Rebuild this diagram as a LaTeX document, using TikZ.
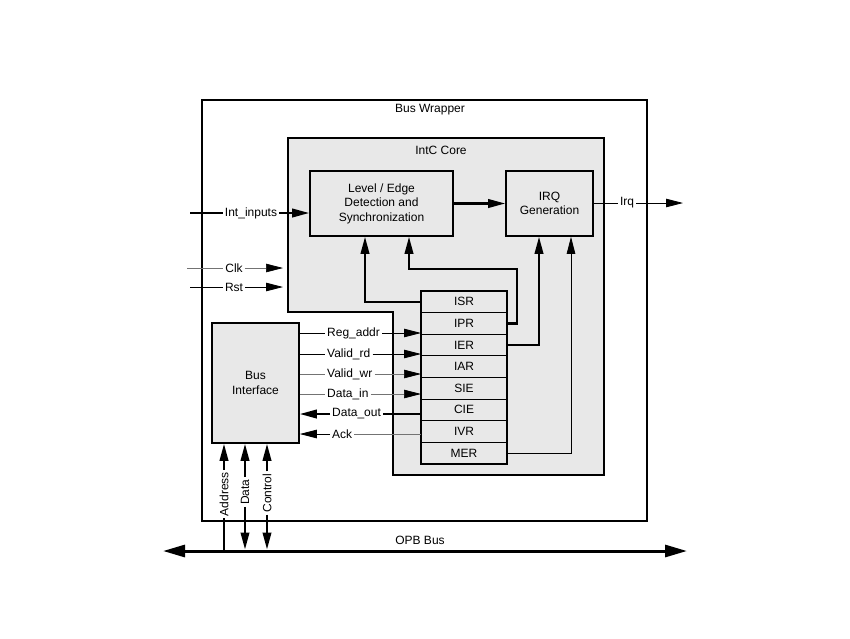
\documentclass[tikz,border=0pt]{standalone}
\usepackage{fontspec}
\setmainfont{Liberation Sans}
\usetikzlibrary{arrows.meta,positioning}
\definecolor{corefill}{gray}{0.91}

\begin{document}
\begin{tikzpicture}[x=1pt,y=-1pt,font=\fontsize{12}{14.5}\selectfont,
 >={Triangle[length=17pt,width=8.5pt,color=black]},
 box/.style={draw,line width=1.6pt,fill=corefill,align=center,inner sep=0pt},
 reg/.style={draw,line width=.8pt,fill=corefill,minimum width=86pt,minimum height=21.6pt,inner sep=0pt,outer sep=0pt},
 lbl/.style={fill=white,inner xsep=2pt,inner ysep=1pt},
 thk/.style={line width=2.2pt},
 thn/.style={line width=.8pt},
 faint/.style={line width=.7pt,draw=black!55},
 bus/.style={line width=3pt,{Triangle[length=22pt,width=12pt]}-{Triangle[length=22pt,width=12pt]}}]
\useasboundingbox (0,0) rectangle (850,638);
% wrapper and core
\node[draw,line width=1.2pt,minimum width=445pt,minimum height=421pt,inner sep=0pt] (wrap) at (424.5,310.5) {};
\node (wraplbl) at (430,110) {Bus Wrapper};
\filldraw[fill=corefill,line width=1.6pt] (288,138) -- (604,138) -- (604,475) -- (393,475) -- (393,312) -- (288,312) -- cycle;
\coordinate (corenw) at (288,138);
\node (corelbl) at (441,150) {IntC Core};
% blocks
\node[box,minimum width=143pt,minimum height=65pt] (level) at (381.5,203.5) {Level / Edge\\Detection and\\Synchronization};
\node[box,minimum width=87pt,minimum height=65pt] (irq) at (549.5,203.5) {IRQ\\Generation};
\node[box,minimum width=87pt,minimum height=120pt] (bi) at (255.5,383) {Bus\\Interface};
% registers
\node[reg] (isr) at (464,301.8) {ISR};
\node[reg,below=0pt of isr] (ipr) {IPR};
\node[reg,below=0pt of ipr] (ier) {IER};
\node[reg,below=0pt of ier] (iar) {IAR};
\node[reg,below=0pt of iar] (sie) {SIE};
\node[reg,below=0pt of sie] (cie) {CIE};
\node[reg,below=0pt of cie] (ivr) {IVR};
\node[reg,below=0pt of ivr] (mer) {MER};
\draw[line width=1.6pt] (isr.north west) rectangle (mer.south east);
% core connections
\draw[thk,->] (level) -- (irq);
\draw[thk,->] (isr.west) -| ([xshift=-16.5pt]level.south);
\draw[thk,->] (ipr.east) -- ++(10,0) |- ([xshift=27.5pt,yshift=-32pt]level.south) -- ([xshift=27.5pt]level.south);
\draw[thk,->] (ier.east) -| ([xshift=-10.5pt]irq.south);
\draw[thn,->] (mer.east) -| ([xshift=21.5pt]irq.south);
% external inputs
\coordinate (intin) at (190,213);
\node[lbl] (intlbl) at (251,213) {Int\_inputs};
\draw[thk] (intin) -- (intlbl);
\draw[thk,->] (intlbl) -- (level.west |- intlbl);
\coordinate (clkin) at (187,268);
\node[lbl] (clklbl) at (234,268) {Clk};
\draw[faint] (clkin) -- (clklbl);
\draw[faint,->] (clklbl) -- ([xshift=-5pt]corenw |- clklbl);
\coordinate (rstin) at (190,287);
\node[lbl] (rstlbl) at (234,287) {Rst};
\draw[thn] (rstin) -- (rstlbl);
\draw[thn,->] (rstlbl) -- ([xshift=-5pt]corenw |- rstlbl);
\coordinate (irqout) at (683,203);
\node[lbl] (irqlbl) at (627,203) {Irq};
\draw[thn] (irq.east |- irqlbl) -- (irqlbl);
\draw[thn,->] (irqlbl) -- (irqout);
% bus interface signals
\node[lbl,anchor=west] (regaddr) at (325,333) {Reg\_addr};
\draw[thn] (bi.east |- regaddr) -- (regaddr);
\draw[thn,->] (regaddr) -- (isr.west |- regaddr);
\node[lbl,anchor=west] (validrd) at (325,354) {Valid\_rd};
\draw[thn] (bi.east |- validrd) -- (validrd);
\draw[thn,->] (validrd) -- (isr.west |- validrd);
\node[lbl,anchor=west] (validwr) at (325,374) {Valid\_wr};
\draw[faint] (bi.east |- validwr) -- (validwr);
\draw[faint,->] (validwr) -- (isr.west |- validwr);
\node[lbl,anchor=west] (datain) at (325,394) {Data\_in};
\draw[faint] (bi.east |- datain) -- (datain);
\draw[faint,->] (datain) -- (isr.west |- datain);
\node[lbl,anchor=west] (dataout) at (330,414) {Data\_out};
\draw[thk] (cie.west |- dataout) -- (dataout);
\draw[thk,->] (dataout) -- (bi.east |- dataout);
\node[lbl,anchor=west] (ack) at (330,434) {Ack};
\draw[faint] (ivr.west |- ack) -- (ack);
\draw[thn,->] (ack) -- (bi.east |- ack);
% OPB side
\coordinate (addr) at (224,551);
\coordinate (data) at (245,551);
\coordinate (ctrl) at (267,551);
\node[lbl,rotate=90] (addrlbl) at (224,494) {Address};
\draw[thk] (addr) -- (addrlbl);
\draw[thk,->] (addrlbl) -- (addr |- bi.south);
\node[lbl,rotate=90] (datalbl) at (245,492) {Data};
\draw[thk,->] (datalbl) -- (data |- bi.south);
\draw[thk,->,shorten >=1.5pt] (datalbl) -- (data);
\node[lbl,rotate=90] (ctrllbl) at (267,493) {Control};
\draw[thk,->] (ctrllbl) -- (ctrl |- bi.south);
\draw[thk,->,shorten >=1.5pt] (ctrllbl) -- (ctrl);
\coordinate (opbl) at (163,551);
\coordinate (opbr) at (687,551);
\draw[bus] (opbl) -- (opbr);
\node (opblbl) at (420,540) {OPB Bus};
\end{tikzpicture}
\end{document}
